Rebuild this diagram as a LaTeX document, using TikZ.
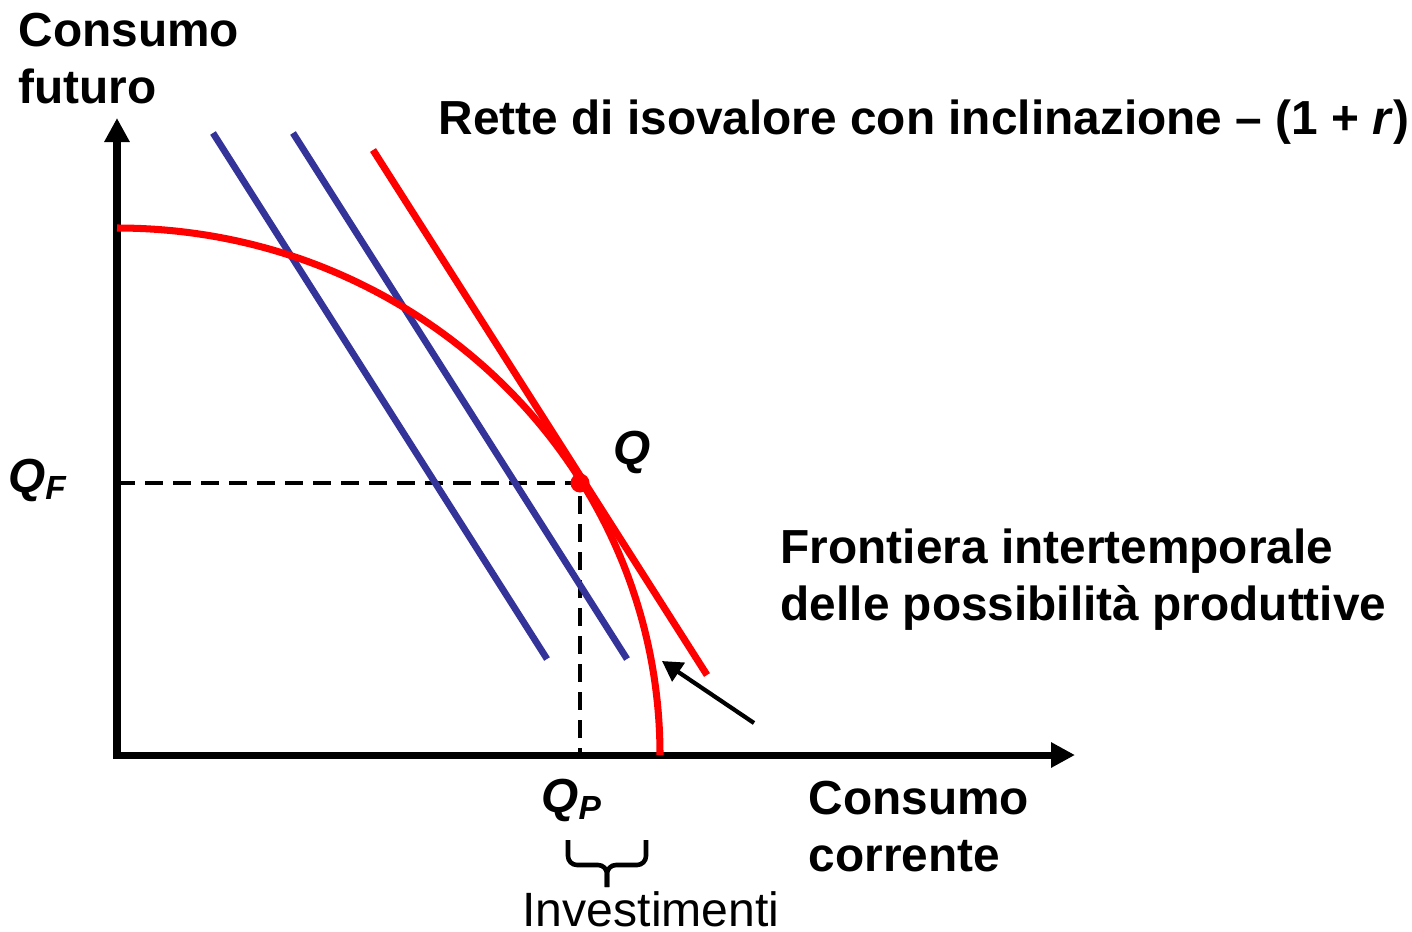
\documentclass[tikz,border=0pt]{standalone}
\usepackage{fontspec}
\setmainfont{Liberation Sans}
\usetikzlibrary{arrows.meta}

\definecolor{blu}{RGB}{51,51,153}

\begin{document}
\begin{tikzpicture}[>={Triangle[length=0.24cm,width=0.24cm]},line join=miter]
  \tikzset{every node/.style={font=\fontsize{13.6}{16.3}\selectfont\bfseries,inner sep=0pt},
           curva/.style={red,line width=2pt},
           retta/.style={blu,line width=1.9pt},
           guida/.style={line width=1.2pt,dash pattern=on 0.18cm off 0.1cm}}
  \useasboundingbox (0,0) rectangle (14.12,9.31);
  \coordinate (O) at (1.17,1.76);
  \coordinate (Y) at (1.17,8.13);
  \coordinate (X) at (10.75,1.76);
  \coordinate (F0) at (1.17,7.03);
  \coordinate (QF) at (1.17,4.48);
  \coordinate (QP) at (5.80,1.76);
  \coordinate (R1) at (3.73,7.81);
  \coordinate (R2) at (7.07,2.56);
  \coordinate (B1) at (2.13,7.98);
  \coordinate (B2) at (5.47,2.72);
  \coordinate (C1) at (2.93,7.98);
  \coordinate (C2) at (6.27,2.72);
  \coordinate (A1) at (7.54,2.08);
  \coordinate (A2) at (6.62,2.70);
  \coordinate (I1) at (5.68,0.91);
  \coordinate (I2) at (6.46,0.91);
  \coordinate (IM) at (6.07,0.66);
  \coordinate (IT) at (6.07,0.44);
  % assi
  \draw[<->,line width=2pt] (Y) |- (X);
  \draw[guida] (QF) -- (5.80,4.48) -- (QP);
  % rette
  \draw[retta] (B1) -- (B2);
  \draw[retta] (C1) -- (C2);
  \draw[curva] (R1) -- (R2);
  % frontiera
  \draw[curva] (F0) arc[start angle=90,end angle=0,x radius=5.43,y radius=5.27];
  \node[circle,fill=red,minimum size=0.19cm] (Q) at (5.80,4.48) {};
  \draw[-{Triangle[length=0.2cm,width=0.22cm]},line width=1.2pt] (A1) -- (A2);
  % graffa
  \draw[line width=1.3pt,rounded corners=0.09cm] (I1) |- (IM) -- (IT);
  \draw[line width=1.3pt,rounded corners=0.09cm] (I2) |- (IM) -- (IT);
  % testi
  \node[align=left,anchor=north west] (cf) at (0.18,9.19) {Consumo\\futuro};
  \node[anchor=north west] (rette) at (4.38,8.32) {Rette di isovalore con inclinazione -- (1 + \textit{r})};
  \node[align=left,anchor=north west] (front) at (7.80,4.03) {Frontiera intertemporale\\delle possibilità produttive};
  \node[align=left,anchor=north west] (cc) at (8.08,1.51) {Consumo\\corrente};
  \node (lQ) at (6.32,4.79) {\itshape Q};
  \node (lQF) at (0.38,4.51) {\itshape Q\textsubscript{F}};
  \node (lQP) at (5.72,1.31) {\itshape Q\textsubscript{P}};
  \node[font=\fontsize{13.7}{16.3}\selectfont,anchor=base] (inv) at (6.51,0.05) {Investimenti};
\end{tikzpicture}
\end{document}
